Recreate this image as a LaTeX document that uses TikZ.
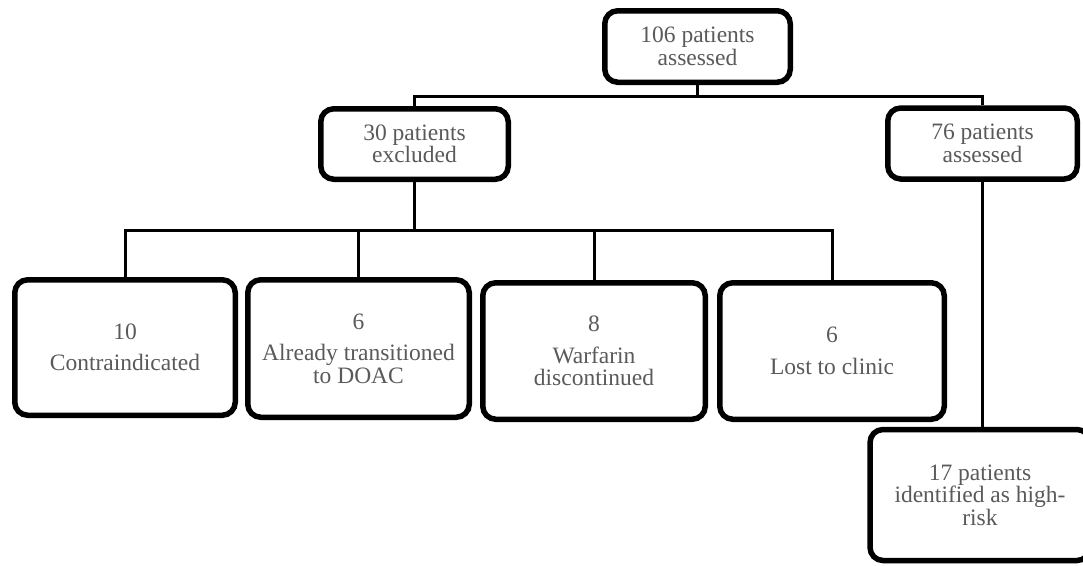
\documentclass[tikz,border=0pt]{standalone}
\usepackage{fontspec}
\setmainfont{Liberation Serif}
\usetikzlibrary{shadows,backgrounds}
\definecolor{txtgray}{HTML}{5A5A5A}
\tikzset{
  flowbox/.style={draw=black, line width=5.5pt, rounded corners=13pt, fill=white,
    align=center, inner sep=0pt, text=txtgray,
    font=\fontsize{23.5}{22.5}\selectfont,
    drop shadow={opacity=0.25, shadow xshift=1.5pt, shadow yshift=-2.5pt}},
  link/.style={draw=black, line width=3pt}
}
\begin{document}
\begin{tikzpicture}[x=1pt,y=-1pt]
\useasboundingbox (0,0) rectangle (1083,565);
\node[flowbox, minimum width=185.5pt, minimum height=71.5pt] (top) at (697.5,46.5) {106 patients\\assessed};
\node[flowbox, minimum width=187.5pt, minimum height=70.5pt] (ex) at (414.5,144) {30 patients\\excluded};
\node[flowbox, minimum width=189.5pt, minimum height=71pt] (inc) at (982.5,143.5) {76 patients\\assessed};
\node[flowbox, minimum width=220.5pt, minimum height=135.5pt] (b1) at (125,347.5) {10\\[9pt]Contraindicated};
\node[flowbox, minimum width=221.5pt, minimum height=137.5pt] (b2) at (358.5,348.5) {6\\[9pt]Already transitioned\\to DOAC};
\node[flowbox, minimum width=222.5pt, minimum height=136.5pt] (b3) at (594,351) {8\\[9pt]Warfarin\\discontinued};
\node[flowbox, minimum width=224.5pt, minimum height=136.5pt] (b4) at (832,351) {6\\[9pt]Lost to clinic};
\node[flowbox, minimum width=220pt, minimum height=131pt] (risk) at (980,495) {17 patients\\identified as high-\\risk};
\begin{scope}[on background layer]
\coordinate (h1) at (697.5,96);
\coordinate (h2) at (414.5,230);
\draw[link] (top.south) -- (h1);
\draw[link] (ex.north) -- (ex.north |- h1) -- (inc.north |- h1) -- (inc.north);
\draw[link] (ex.south) -- (h2);
\draw[link] (b1.north) -- (b1.north |- h2) -- (b4.north |- h2) -- (b4.north);
\draw[link] (b2.north) -- (b2.north |- h2);
\draw[link] (b3.north) -- (b3.north |- h2);
\draw[link] (inc.south) -- (inc.south |- risk.north);
\end{scope}
\end{tikzpicture}
\end{document}
